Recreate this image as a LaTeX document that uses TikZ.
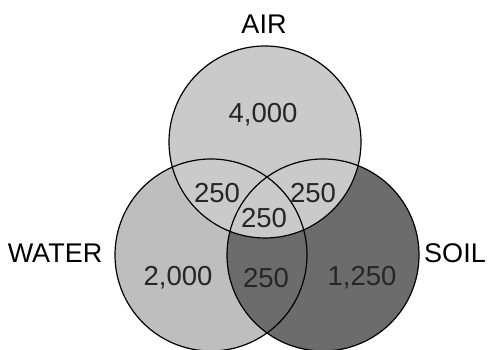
\documentclass[tikz,border=0pt]{standalone}
\usepackage{fontspec}
\setmainfont{Liberation Sans}
\begin{document}
\begin{tikzpicture}[x=1pt,y=1pt,
  setfill/.style={draw=none},
  setline/.style={draw=black,line width=1.2pt},
  lbl/.style={font=\fontsize{27}{27}\selectfont,inner sep=0pt},
  num/.style={font=\fontsize{27.5}{27.5}\selectfont,inner sep=0pt,text=black!85}]
\useasboundingbox (0,0) rectangle (491,350);
\coordinate (cA) at (265,208);
\coordinate (cW) at (211,95);
\coordinate (cS) at (323,95);
% fills: water, then soil over it, then air on top
\fill[setfill,fill={rgb,255:red,190;green,190;blue,190}] (cW) circle (96);
\fill[setfill,fill={rgb,255:red,108;green,108;blue,108}] (cS) circle (96);
\fill[setfill,fill={rgb,255:red,202;green,202;blue,202}] (cA) circle (96);
% outlines
\draw[setline] (cW) circle (96);
\draw[setline] (cS) circle (96);
\draw[setline] (cA) circle (96);
% set names
\node[lbl] (air) at (264,326) {AIR};
\node[lbl] (water) at (55,97) {WATER};
\node[lbl] (soil) at (455,97) {SOIL};
% region counts
\node[num] (nA) at (263,235) {4,000};
\node[num] (nAW) at (217,157) {250};
\node[num] (nAS) at (313,157) {250};
\node[num] (nAWS) at (264,132) {250};
\node[num] (nW) at (178,72) {2,000};
\node[num] (nWS) at (266,72) {250};
\node[num] (nS) at (362,72) {1,250};
\end{tikzpicture}
\end{document}
